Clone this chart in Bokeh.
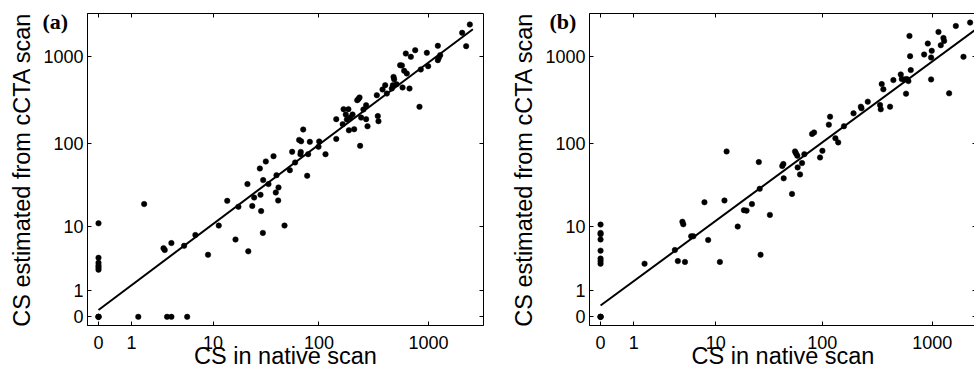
import numpy as np
from bokeh.plotting import figure
from bokeh.layouts import row
from bokeh.models import Range1d, FixedTicker, CustomJSTickFormatter, LinearAxis
from bokeh.embed import file_html
from bokeh.resources import INLINE

# ---------------- data ----------------
tick_values = [0, 1, 10, 100, 1000]
x_label = "CS in native scan"
y_label = "CS estimated from cCTA scan"

# panel (a)
a_native = [0, 0, 0, 0, 0, 0, 0, 0, 0,
            1.3, 3.2, 3.6, 5.4,
            1.6, 2.9, 3.0, 3.6, 5.0, 6.6, 8.9, 11.4, 13.8, 17.7,
            16.6, 21.6, 22, 24, 25, 28.3, 28.7, 29.1, 30.2, 30.4,
            32.2, 34.1, 38, 39.9, 40.5, 42.3, 42, 48.1, 53.9, 56.6,
            60.3, 65.7, 68.5, 67.5, 68, 71.6, 77.9, 79.5, 82.4, 99,
            100.4, 114.8, 144, 144, 165, 168, 176, 180, 186, 188,
            193, 203, 210, 224, 230, 235, 238, 243, 255, 270,
            270, 278, 338, 345, 350, 381, 403, 417, 463, 473,
            480, 486, 511, 551, 572, 580, 600, 621, 634, 671,
            690, 756, 827, 850, 965, 992, 1215, 1215, 1241, 1276,
            2022, 2198, 2375]
a_ccta = [11, 3.8, 3.2, 2.9, 2.7, 2.5, 0, 0, 0,
          0, 0, 0, 0,
          19, 5.2, 4.9, 6.1, 5.6, 7.8, 4.2, 10.3, 20.8, 17.6,
          6.8, 33, 4.7, 18, 22.8, 50.5, 24.6, 15.6, 8.3, 36.8,
          61, 33, 70.4, 26.2, 42.1, 30.1, 21, 10.3, 48.2, 79.2,
          59.4, 109, 105, 74.3, 79, 144, 41.4, 74.3, 103.5, 90.6,
          104.5, 74.3, 190, 112, 166, 248, 215, 188, 248, 141,
          198, 215, 145, 315, 326, 339, 93, 198, 246, 276,
          190, 157, 360, 206, 180, 419, 470, 376, 430, 470,
          586, 551, 483, 800, 793, 442, 688, 1090, 642, 430,
          999, 1193, 264, 713, 1111, 779, 1339, 915, 972, 1045,
          1891, 1327, 2360]
a_fit = {"intercept": 0.079, "slope": 0.952, "x_from": 0, "x_to": 2530}

# panel (b)
b_native = [0, 0, 0, 0, 0, 0, 0, 0, 0, 0, 0,
            1.5, 3.7, 4.0, 4.5, 4.6, 4.8, 5.6, 5.9, 7.7, 8.4,
            11, 12.2, 12.8, 16.4, 18.8, 19.9, 22.4, 26, 26.5, 27,
            33, 43, 44, 44.3, 52.9, 56.4, 57.6, 59.2, 59.6, 62.7,
            65.4, 68.7, 95.6, 100.5, 80.8, 84.3, 115, 118, 132, 140,
            158, 193, 225, 228, 260, 336, 341, 348, 360, 414,
            444, 518, 529, 559, 578, 586, 607, 621, 629, 638,
            843, 910, 975, 988, 975, 1137, 1193, 1261, 1279, 1419,
            1632, 1914, 2198]
b_ccta = [10.6, 8.3, 8.0, 6.8, 4.8, 3.7, 3.4, 3.1, 0, 0, 0,
          3.1, 4.9, 3.4, 11.5, 10.7, 3.3, 7.5, 7.5, 20, 6.7,
          3.3, 21, 80, 10, 16, 15.8, 19, 60, 29, 4.2,
          14, 54, 57, 38.6, 25.2, 80, 75.7, 71.1, 52, 43,
          58.4, 74.4, 68, 81.4, 128, 133, 164, 203, 114, 102,
          157, 222, 265, 254, 303, 277, 247, 484, 421, 265,
          538, 626, 553, 548, 375, 553, 524, 1742, 1017, 702,
          1063, 1422, 981, 1172, 548, 1937, 1361, 1651, 1527, 378,
          2270, 999, 2482]
b_fit = {"intercept": 0.130, "slope": 0.9385, "x_from": 0, "x_to": 3000}


def tf(v):
    """display transform: log10(CS + 1)"""
    return np.log10(np.asarray(v, dtype=float) + 1.0)


FONT = "Liberation Sans"


def style_axis(ax, show_labels=True):
    ax.ticker = FixedTicker(ticks=[float(t) for t in tf(tick_values)])
    ax.formatter = CustomJSTickFormatter(code="return String(Math.round(Math.pow(10, tick) - 1));")
    ax.major_tick_in = 4
    ax.major_tick_out = 0
    ax.minor_tick_line_color = None
    ax.major_tick_line_color = "black"
    ax.major_tick_line_width = 1
    ax.axis_line_color = "black"
    ax.axis_line_width = 1
    if show_labels:
        ax.major_label_text_font = FONT
        ax.major_label_text_font_size = "18px"
        ax.major_label_text_color = "black"
        ax.axis_label_text_font = FONT
        ax.axis_label_text_font_size = "23.5px"
        ax.axis_label_text_font_style = "normal"
        ax.axis_label_text_color = "black"
    else:
        ax.major_label_text_font_size = "0px"
        ax.major_label_text_color = None
        ax.major_label_standoff = 0
        ax.axis_line_color = None


def make_panel(native, ccta, fit, tag, tag_offset, x_end, frame_w, border_l, border_r):
    p = figure(output_backend="svg", toolbar_location=None,
               x_range=Range1d(-0.1, x_end), y_range=Range1d(-0.1, 3.5),
               frame_width=frame_w, frame_height=312,
               min_border_left=border_l, min_border_right=border_r,
               min_border_top=13, min_border_bottom=56,
               x_axis_label=x_label, y_axis_label=y_label)
    p.grid.visible = False
    p.background_fill_color = "white"
    p.border_fill_color = "white"
    p.outline_line_color = "black"
    p.outline_line_width = 1

    for ax in p.xaxis:
        style_axis(ax)
        ax.major_label_standoff = 10
        ax.axis_label_standoff = -9
    for ax in p.yaxis:
        style_axis(ax)
        ax.major_label_standoff = 4
        ax.axis_label_standoff = 5

    top = LinearAxis()
    style_axis(top, show_labels=False)
    right = LinearAxis()
    style_axis(right, show_labels=False)
    p.add_layout(top, "above")
    p.add_layout(right, "right")

    # panel tag "(a)" / "(b)" drawn as the plot title, pulled down beside the frame
    p.title.text = tag
    p.title.text_font = "Liberation Serif"
    p.title.text_font_style = "bold"
    p.title.text_font_size = "22px"
    p.title.text_color = "black"
    p.title.align = "left"
    p.title.vertical_align = "bottom"
    p.title.offset = tag_offset
    p.title.standoff = -41

    xs_fit = tf([fit["x_from"], fit["x_to"]])
    ys_fit = fit["intercept"] + fit["slope"] * xs_fit
    p.line(xs_fit, ys_fit, line_color="black", line_width=2)

    p.scatter(tf(native), tf(ccta), marker="circle", size=5.5,
              fill_color="black", line_color="black", line_width=0.5)
    return p


pa = make_panel(a_native, a_ccta, a_fit, "(a)", -45, 3.5, 396, 87, 25)
pb = make_panel(b_native, b_ccta, b_fit, "(b)", -40, 3.40, 387, 79, 0)

layout = row(pa, pb)
open("out.html", "w").write(file_html(layout, INLINE))
